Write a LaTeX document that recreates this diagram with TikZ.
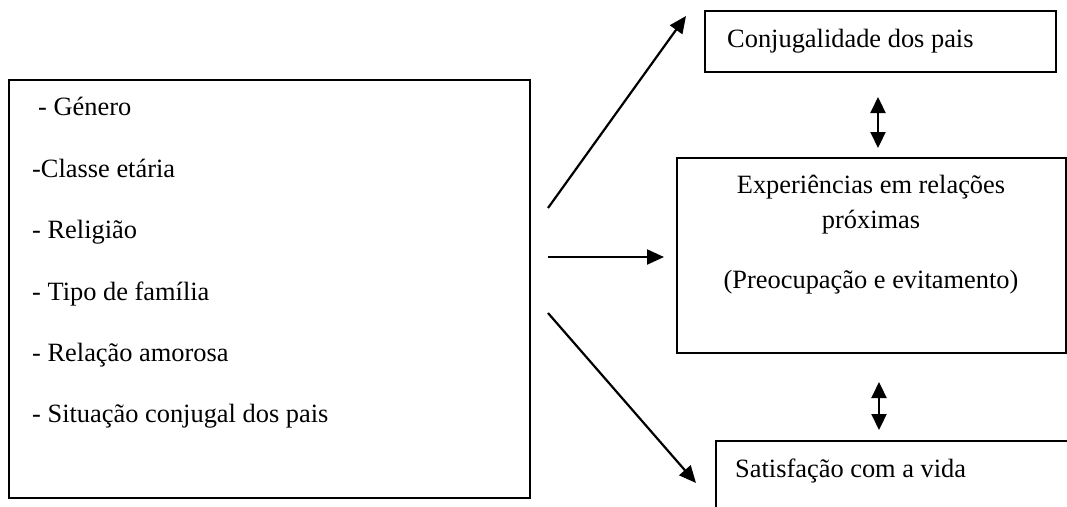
\documentclass[tikz,border=0pt]{standalone}
\usepackage{fontspec}
\setmainfont{Liberation Serif}
\usetikzlibrary{arrows.meta}
\begin{document}
\begin{tikzpicture}[x=1pt,y=-1pt,
  box/.style={draw,line width=2pt,inner sep=0pt,outer sep=0pt,anchor=north west},
  txt/.style={inner sep=0pt,font=\fontsize{26.4}{31}\selectfont},
  arr/.style={line width=2.2pt,-{Triangle[length=17pt,width=15pt]}},
  darr/.style={line width=2.2pt,{Triangle[length=16pt,width=15pt]}-{Triangle[length=16pt,width=15pt]}}]
\useasboundingbox (0,0) rectangle (1067,506);
\clip (0,0) rectangle (1067,506);
% boxes
\node[box,minimum width=521pt,minimum height=418pt] (left) at (9,80) {};
\node[box,minimum width=351pt,minimum height=61pt] (top) at (705,11) {};
\node[box,minimum width=389pt,minimum height=195pt] (mid) at (677,158) {};
\node[box,minimum width=400pt,minimum height=100pt] (bot) at (716,441) {};
% left texts
\node[txt,anchor=base west] (t1) at (38,115) {- Género};
\node[txt,anchor=base west] (t2) at (32,177) {-Classe etária};
\node[txt,anchor=base west] (t3) at (32,238) {- Religião};
\node[txt,anchor=base west] (t4) at (32,300) {- Tipo de família};
\node[txt,anchor=base west] (t5) at (32,361) {- Relação amorosa};
\node[txt,anchor=base west] (t6) at (32,422) {- Situação conjugal dos pais};
% right texts
\node[txt,anchor=base west] (c1) at (727,47) {Conjugalidade dos pais};
\node[txt,anchor=base] (m1) at (871,193) {Experiências em relações};
\node[txt,anchor=base] (m2) at (871,228) {próximas};
\node[txt,anchor=base] (m3) at (871,288) {(Preocupação e evitamento)};
\node[txt,anchor=base west] (s1) at (735,477) {Satisfação com a vida};
% arrows
\coordinate (a1s) at (548,208);
\coordinate (a1e) at (686,16);
\coordinate (a2s) at (548,257);
\coordinate (a2e) at (664,257);
\coordinate (a3s) at (548,313);
\coordinate (a3e) at (696,483);
\draw[arr] (a1s) -- (a1e);
\draw[arr] (a2s) -- (a2e);
\draw[arr] (a3s) -- (a3e);
\coordinate (d1a) at (878,97);
\coordinate (d1b) at (878,148);
\coordinate (d2a) at (879,382);
\coordinate (d2b) at (879,430);
\draw[darr] (d1a) -- (d1b);
\draw[darr] (d2a) -- (d2b);
\end{tikzpicture}
\end{document}
